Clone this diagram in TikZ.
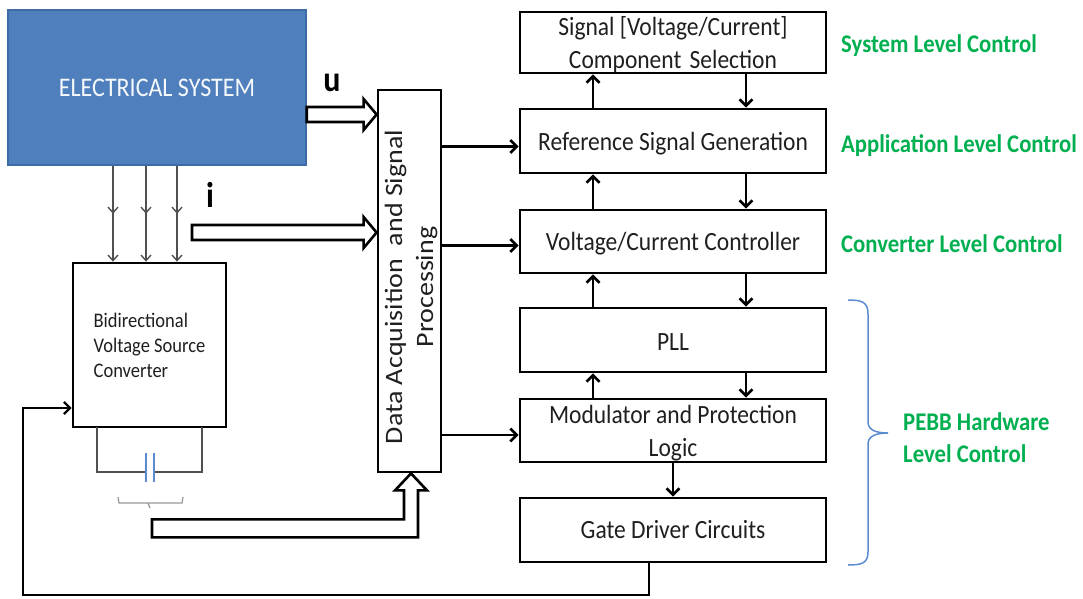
\documentclass[tikz,border=0pt]{standalone}
\usepackage{fontspec}
\usepackage{graphicx}
\setmainfont{Carlito}
\usetikzlibrary{arrows.meta,calc,decorations.markings}
\definecolor{sysblue}{HTML}{4F7FBC}
\definecolor{sysedge}{HTML}{3E6CA6}
\definecolor{lvlgreen}{HTML}{00B050}
\definecolor{bracecol}{HTML}{5B8BD0}
\definecolor{wirecol}{HTML}{505050}
\newcommand\tallt[1]{\scalebox{1}[1.12]{#1}}
\newcommand\lowt[1]{\raisebox{-2.5pt}[\height][\depth]{\scalebox{1}[1.12]{#1}}}
\newcommand\widet[1]{\scalebox{1.12}[1]{#1}}
\begin{document}
\begin{tikzpicture}[x=1pt,y=-1pt,
  blk/.style={draw=black, line width=2.8pt, minimum width=306pt, minimum height=63pt,
    inner sep=0pt, text=black!88, font=\fontsize{23.5}{33}\selectfont, align=center},
  arr/.style={line width=2.6pt, -{Straight Barb[length=6.5pt,width=13pt]}},
  thinarr/.style={draw=wirecol, line width=1.4pt, -{Straight Barb[length=5.5pt,width=10pt]},
    postaction={decorate}, decoration={markings,
      mark=at position 0.5 with {\arrow{Straight Barb[length=5.5pt,width=10pt]}}}},
  hollow/.style={draw=black, fill=white, line width=2.6pt, line join=miter},
  lvl/.style={anchor=base west, inner sep=0pt, text=lvlgreen, font=\bfseries\fontsize{22.7}{32}\selectfont},
  wire/.style={draw=wirecol, line width=1.5pt},
]
\useasboundingbox (0,0) rectangle (1083,598);

% plant and converter
\node[draw=sysedge, line width=1.5pt, fill=sysblue, minimum width=298pt, minimum height=155pt,
  text=white!95!sysblue, font=\fontsize{24}{28}\selectfont] (elec) at (157,87.5)
  {\tallt{ELECTRICAL SYSTEM}};
\node[draw=black, line width=2.8pt, minimum width=153pt, minimum height=164pt, align=left,
  text=black!88, font=\fontsize{18.5}{25}\selectfont] (conv) at (149.5,345)
  {\tallt{Bidirectional}\\\tallt{Voltage Source}\\\tallt{Converter}};

% acquisition block
\node[draw=black, line width=2.8pt, minimum width=63pt, minimum height=382pt, inner sep=0pt] (daq) at (409.5,281) {};
\node[rotate=90, align=center, text=black!88, font=\fontsize{25}{31}\selectfont] (daqtext) at (411,287)
  {\widet{Data Acquisition\ \ and Signal}\\\widet{Processing}};

% control hierarchy
\node[blk, minimum height=61pt] (sel)  at (673,42.5) {\lowt{Signal [Voltage/Current]}\\\lowt{Component\hspace{0.35em}Selection}};
\node[blk, minimum height=64pt] (ref)  at (673,141)  {\lowt{Reference Signal Generation}};
\node[blk] (ctrl) at (673,241.5) {\lowt{Voltage/Current Controller}};
\node[blk, minimum height=64pt] (pll)  at (673,340)  {\lowt{PLL}};
\node[blk] (mod)  at (673,430.5) {\lowt{Modulator and Protection}\\\lowt{Logic}};
\node[blk, minimum height=64pt] (gate) at (673,530)  {\tallt{Gate Driver Circuits}};

% level labels
\node[lvl] (l1) at (841,52)  {\tallt{System Level Control}};
\node[lvl] (l2) at (841,152) {\tallt{Application Level Control}};
\node[lvl] (l3) at (841,252) {\tallt{Converter Level Control}};
\node[lvl] (l4) at (903,430) {\tallt{PEBB Hardware}};
\node[lvl] (l5) at (903,462) {\tallt{Level Control}};

% brace grouping the hardware level
\draw[draw=bracecol, line width=1.5pt]
  (848,300) .. controls (862,300) and (868,302) .. (868,314) -- (868,422)
  .. controls (868,430) and (876,433) .. (888,433)
  .. controls (876,433) and (868,436) .. (868,444) -- (868,552)
  .. controls (868,563) and (862,565) .. (848,565);

% signal labels
\node[font=\bfseries\fontsize{32}{36}\selectfont] (ulab) at (332,83) {\tallt{u}};
\node[font=\bfseries\fontsize{32}{36}\selectfont] (ilab) at (210,195) {\tallt{i}};

% three-phase lines into the converter
\foreach \xx in {113,146,177} {
  \coordinate (ph) at (\xx,0);
  \draw[thinarr] (elec.south -| ph) -- (conv.north -| ph);
}

% measured voltage u
\coordinate (uy) at (0,114.5);
\coordinate (us) at (elec.east |- uy);
\coordinate (ut) at (daq.west |- uy);
\draw[hollow] ($(us)+(0,-7.5)$) -- ($(ut)+(-13,-7.5)$) -- ($(ut)+(-13,-15.5)$) -- (ut)
  -- ($(ut)+(-13,15.5)$) -- ($(ut)+(-13,7.5)$) -- ($(us)+(0,7.5)$) -- cycle;

% measured current i
\coordinate (is) at (192,232.5);
\coordinate (it) at (daq.west |- is);
\draw[hollow] ($(is)+(0,-7.5)$) -- ($(it)+(-13,-7.5)$) -- ($(it)+(-13,-15.5)$) -- (it)
  -- ($(it)+(-13,15.5)$) -- ($(it)+(-13,7.5)$) -- ($(is)+(0,7.5)$) -- cycle;

% dc-link measurement into the acquisition block
\coordinate (bt) at ([xshift=1.5pt]daq.south);
\coordinate (bs) at (152,527);
\draw[hollow] ($(bs |- bt)+(0,46)$) -- ($(bt)+(-7,46)$) -- ($(bt)+(-7,17)$) -- ($(bt)+(-16,17)$)
  -- (bt) -- ($(bt)+(16,17)$) -- ($(bt)+(7,17)$) -- ($(bt)+(7,64)$) -- ($(bs |- bt)+(0,64)$) -- cycle;

% dc-link capacitor
\draw[wire] (97,427) -- (97,472) -- (146,472);
\draw[wire] (202,427) -- (202,472) -- (154,472);
\draw[draw=bracecol, line width=1.6pt] (146,453) -- (146,482) (154,453) -- (154,482);
\draw[draw=gray!80, line width=1.3pt] (118,497) -- (119,503) -- (148,503) -- (150,508)
  (152,503) -- (148,503) (150,503) -- (182,503) -- (183,497);

% acquisition outputs
\coordinate (q2) at ($(ref.west)+(0,5.5)$);
\coordinate (q3) at ($(ctrl.west)+(0,4)$);
\coordinate (q5) at ($(mod.west)+(0,4.5)$);
\draw[arr] (daq.east |- q2) -- (q2);
\draw[arr] (daq.east |- q3) -- (q3);
\draw[arr] (daq.east |- q5) -- (q5);

% links between control levels
\foreach \lo/\hi in {ref/sel, ctrl/ref, pll/ctrl, mod/pll} {
  \draw[arr] ([xshift=-80pt]\lo.north) -- ([xshift=-80pt]\hi.south);
  \draw[arr] ([xshift=73pt]\hi.south) -- ([xshift=73pt]\lo.north);
}
\draw[arr] (mod.south) -- (gate.north);

% gate signals back to the converter
\coordinate (fbc) at (23,595);
\draw[line width=2.3pt, -{Straight Barb[length=6pt,width=12pt]}]
  ([xshift=-24pt]gate.south) |- (fbc) |- ([yshift=-63pt]conv.west);
\end{tikzpicture}
\end{document}
